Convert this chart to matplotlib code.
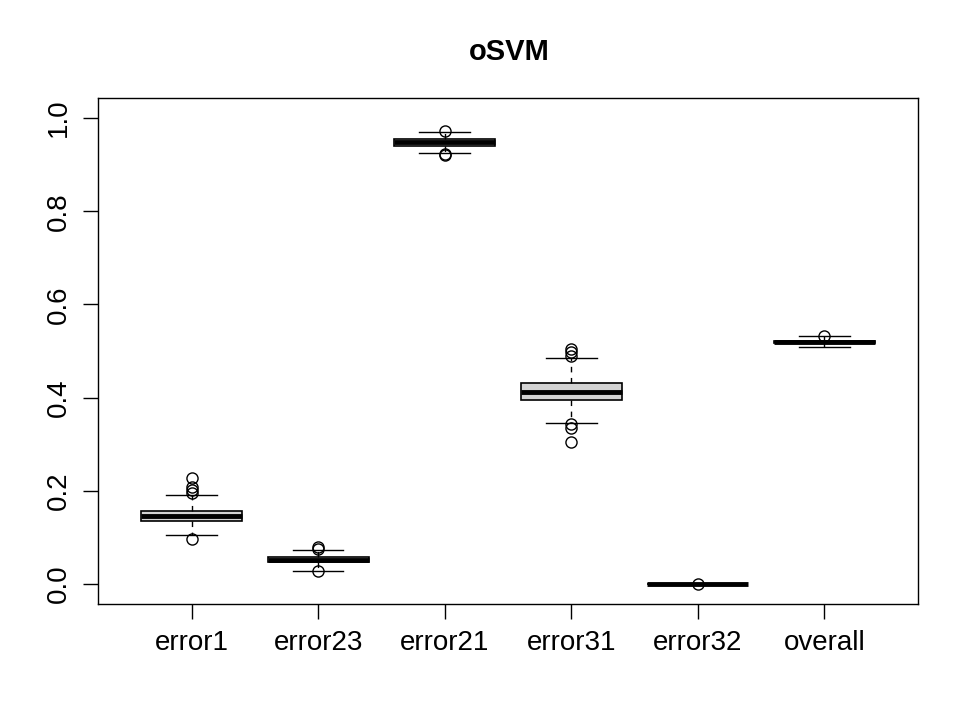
import matplotlib
matplotlib.use("Agg")
import matplotlib.pyplot as plt

# Werte
labels = ["error1", "error23", "error21", "error31", "error32", "overall"]
q1 = [0.1345, 0.048, 0.941, 0.394, 0.0, 0.5175]
med = [0.146, 0.052, 0.948, 0.413, 0.0, 0.519]
q3 = [0.157, 0.058, 0.954, 0.432, 0.0, 0.521]
whislo = [0.1045, 0.0286, 0.9256, 0.3455, 0.0, 0.5086]
whishi = [0.190, 0.0737, 0.970, 0.485, 0.0, 0.5315]
fliers = [
    [0.228, 0.209, 0.202, 0.195, 0.096],
    [0.079, 0.076, 0.028],
    [0.973, 0.9206, 0.923],
    [0.504, 0.497, 0.490, 0.343, 0.335, 0.305],
    [0.0],
    [0.533],
]

plt.rcParams['font.family'] = ['Liberation Sans', 'DejaVu Sans']

stats = []
for i, lab in enumerate(labels):
    stats.append(dict(label=lab, q1=q1[i], med=med[i], q3=q3[i],
                      whislo=whislo[i], whishi=whishi[i], fliers=fliers[i]))

fig = plt.figure(figsize=(9.69, 7.27), dpi=100)
ax = fig.add_axes([98 / 969, 1 - 604 / 727, 820 / 969, 506 / 727])

ax.bxp(stats, positions=range(1, 7), widths=0.8, patch_artist=True,
       boxprops=dict(facecolor="#D3D3D3", edgecolor="black", linewidth=1.2),
       medianprops=dict(color="black", linewidth=3.5, solid_capstyle="butt"),
       whiskerprops=dict(color="black", linestyle=(0, (4, 4)), linewidth=1.0),
       capprops=dict(color="black", linewidth=1.0),
       flierprops=dict(marker="o", markerfacecolor="none", markeredgecolor="black",
                       markersize=8, markeredgewidth=1.0),
       capwidths=0.4)

ax.set_xlim(0.26, 6.74)
ax.set_ylim(-0.043, 1.043)
ax.set_yticks([0.0, 0.2, 0.4, 0.6, 0.8, 1.0])
ax.set_yticklabels(["0.0", "0.2", "0.4", "0.6", "0.8", "1.0"], rotation=90, va="center")
ax.tick_params(axis="both", labelsize=20, length=11, width=1.0, direction="out")
ax.tick_params(axis="x", pad=8)
ax.tick_params(axis="y", pad=8)
for s in ax.spines.values():
    s.set_linewidth(1.0)

fig.text(509 / 969, 1 - 52 / 727, "oSVM", ha="center", va="center",
         fontsize=21, fontweight="bold")

fig.savefig("out.png", dpi=100)
